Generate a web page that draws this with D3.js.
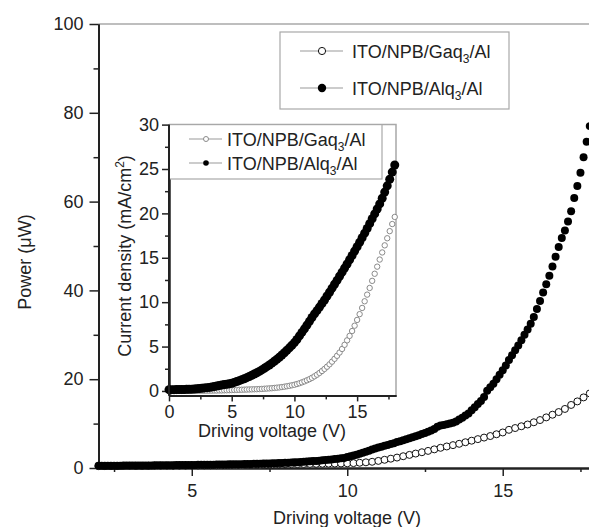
<!DOCTYPE html>
<html>
<head>
<meta charset="utf-8">
<script src="https://cdn.jsdelivr.net/npm/d3@7"></script>
<style>
  html, body { margin: 0; padding: 0; background: #fff; }
  svg { display: block; }
  text { font-family: "Liberation Sans", Arial, sans-serif; fill: #222; }
</style>
</head>
<body>
<svg id="chart" width="589" height="527"></svg>
<script>
// ---------------- DATA ----------------
const seriesNames = ["ITO/NPB/Gaq", "ITO/NPB/Alq"];

// Main plot: Power (µW) vs driving voltage (V)
const mainXTicks = [5, 10, 15];
const mainYTicks = [0, 20, 40, 60, 80, 100];
const mainGaqStart = 2.0, mainGaqStep = 0.2;
const mainGaqPower = [
  0.42,0.43,0.44,0.45,0.46,
  0.47,0.48,0.49,0.50,0.51,
  0.52,0.53,0.54,0.55,0.56,
  0.58,0.59,0.60,0.62,0.63,
  0.64,0.66,0.68,0.70,0.72,
  0.74,0.76,0.78,0.80,0.82,
  0.84,0.86,0.88,0.90,0.92,
  0.94,0.96,0.98,1.00,1.02,
  1.05,1.10,1.18,1.28,1.40,
  1.60,1.85,2.10,2.35,2.65,
  2.95,3.25,3.55,3.85,4.20,
  4.55,4.85,5.15,5.45,5.80,
  6.15,6.50,6.85,7.20,7.60,
  8.00,8.60,9.00,9.40,9.80,
  10.3,10.8,11.4,12.0,12.6,
  13.3,14.2,15.0,15.9,16.8
];
const mainAlqStart = 2.0, mainAlqStep = 0.1;
const mainAlqPower = [
  0.50,0.50,0.51,0.51,0.52,0.52,0.53,0.53,0.54,0.54,
  0.55,0.55,0.56,0.56,0.57,0.58,0.58,0.59,0.60,0.60,
  0.61,0.62,0.62,0.63,0.64,0.65,0.65,0.66,0.67,0.68,
  0.69,0.70,0.71,0.72,0.73,0.74,0.75,0.76,0.77,0.78,
  0.79,0.80,0.82,0.83,0.84,0.86,0.87,0.89,0.90,0.92,
  0.94,0.96,0.98,1.00,1.02,1.04,1.07,1.09,1.12,1.15,
  1.18,1.21,1.24,1.28,1.32,1.36,1.40,1.45,1.50,1.55,
  1.60,1.66,1.72,1.79,1.86,1.93,2.01,2.09,2.18,2.27,
  2.45,2.62,2.80,3.00,3.20,3.42,3.65,3.90,4.15,4.40,
  4.60,4.80,5.00,5.20,5.40,5.60,5.85,6.05,6.25,6.50,
  6.70,6.90,7.15,7.40,7.65,7.90,8.15,8.45,8.80,9.30,
  9.60,9.70,9.85,10.00,10.20,10.50,10.90,11.30,11.80,12.30,
  13.0,13.7,14.4,15.1,16.0,17.4,18.2,19.0,20.0,21.0,
  22.0,23.1,24.3,25.4,26.5,27.6,28.8,30.0,31.2,32.5,
  34.0,35.8,37.6,39.5,41.4,43.3,45.4,47.6,49.8,51.8,
  53.5,55.5,57.8,60.8,63.5,66.5,70.0,73.5,77.0
];

// Inset: Current density (mA/cm2) vs driving voltage (V)
const insetXTicks = [0, 5, 10, 15];
const insetYTicks = [0, 5, 10, 15, 20, 25, 30];
const insetStart = 0.0, insetStep = 0.2;
const insetGaqJ = [
  0.00,0.00,0.00,0.00,0.01,0.01,0.01,0.01,0.01,0.02,
  0.02,0.02,0.02,0.03,0.03,0.03,0.04,0.04,0.05,0.05,
  0.06,0.06,0.07,0.08,0.09,0.10,0.11,0.12,0.13,0.14,
  0.15,0.16,0.17,0.18,0.19,0.20,0.21,0.23,0.25,0.27,
  0.29,0.31,0.34,0.37,0.40,0.44,0.48,0.53,0.58,0.64,
  0.70,0.78,0.87,0.97,1.08,1.20,1.33,1.48,1.65,1.83,
  2.03,2.25,2.48,2.73,3.00,3.30,3.62,3.96,4.33,4.73,
  5.20,5.70,6.20,6.75,7.35,8.00,8.65,9.35,10.10,10.85,
  11.60,12.40,13.20,14.00,14.80,15.60,16.40,17.20,18.00,18.80,19.60
];
const insetAlqJ = [
  0.15,0.15,0.15,0.16,0.16,0.17,0.17,0.18,0.19,0.20,
  0.22,0.25,0.28,0.31,0.34,0.37,0.40,0.44,0.49,0.55,
  0.61,0.67,0.72,0.76,0.81,0.87,0.96,1.06,1.16,1.27,
  1.38,1.50,1.63,1.77,1.91,2.05,2.20,2.37,2.55,2.74,
  2.93,3.13,3.34,3.56,3.80,4.05,4.31,4.58,4.86,5.15,
  5.45,5.80,6.20,6.60,7.00,7.42,7.84,8.27,8.68,9.05,
  9.45,9.85,10.25,10.70,11.12,11.58,12.02,12.46,12.92,13.38,
  13.84,14.30,14.78,15.26,15.75,16.24,16.74,17.25,17.77,18.30,
  18.84,19.39,19.94,20.50,21.07,21.70,22.40,23.10,23.85,24.65,25.45
];

// ---------------- DRAW ----------------
const svg = d3.select("#chart");
const frameCol = "#a8a8a8", axisCol = "#222";

function toPts(start, step, vals) {
  return vals.map((v, i) => ({ x: +(start + i * step).toFixed(2), y: v }));
}

// ===== Main plot =====
const mx = d3.scaleLinear().domain([2, 18]).range([98.5, 596]);
const my = d3.scaleLinear().domain([0, 100]).range([468, 24]);

// top frame
svg.append("line").attr("x1", mx(2)).attr("x2", mx(18)).attr("y1", my(100)).attr("y2", my(100))
  .attr("stroke", frameCol).attr("stroke-width", 1.5);

function styleAxis(g, w) {
  g.selectAll("path.domain").attr("stroke", axisCol).attr("stroke-width", w);
  g.selectAll(".tick line").attr("stroke", axisCol).attr("stroke-width", 1.5);
  g.selectAll(".tick text").style("font-size", "18px").attr("fill", "#222")
    .style("font-family", '"Liberation Sans", Arial, sans-serif');
}

const myMinor = svg.append("g").attr("transform", `translate(${mx(2)},0)`)
  .call(d3.axisLeft(my).tickValues([10, 30, 50, 70, 90]).tickSize(5).tickSizeOuter(0).tickFormat(""));
styleAxis(myMinor, 2);
const myAxis = svg.append("g").attr("transform", `translate(${mx(2)},0)`)
  .call(d3.axisLeft(my).tickValues(mainYTicks).tickSize(9).tickSizeOuter(0).tickPadding(6));
styleAxis(myAxis, 2);

const mxMinor = svg.append("g").attr("transform", `translate(0,${my(0)})`)
  .call(d3.axisBottom(mx).tickValues([2.5, 7.5, 12.5, 17.5]).tickSize(4).tickSizeOuter(0).tickFormat(""));
styleAxis(mxMinor, 2);
const mxAxis = svg.append("g").attr("transform", `translate(0,${my(0)})`)
  .call(d3.axisBottom(mx).tickValues(mainXTicks).tickSize(8).tickSizeOuter(0).tickPadding(8));
styleAxis(mxAxis, 2);

// axis titles
svg.append("text").attr("x", 347).attr("y", 524).attr("text-anchor", "middle")
  .style("font-size", "18px").text("Driving voltage (V)");
svg.append("text").attr("transform", "translate(31,262) rotate(-90)").attr("text-anchor", "middle")
  .style("font-size", "18px").text("Power (\u03BCW)");

// data
const mainGaq = toPts(mainGaqStart, mainGaqStep, mainGaqPower);
const mainAlq = toPts(mainAlqStart, mainAlqStep, mainAlqPower);

svg.append("g").selectAll("circle").data(mainGaq).join("circle")
  .attr("cx", d => mx(d.x)).attr("cy", d => my(d.y)).attr("r", 3.5)
  .attr("fill", "#fff").attr("stroke", "#111").attr("stroke-width", 1);
svg.append("g").selectAll("circle").data(mainAlq).join("circle")
  .attr("cx", d => mx(d.x)).attr("cy", d => my(d.y)).attr("r", 4).attr("fill", "#000");

// main legend
const lg = svg.append("g");
lg.append("rect").attr("x", 280).attr("y", 32).attr("width", 229).attr("height", 77)
  .attr("fill", "#fff").attr("stroke", frameCol).attr("stroke-width", 1.2);
[51, 88].forEach((cy, i) => {
  lg.append("line").attr("x1", 300).attr("x2", 343).attr("y1", cy).attr("y2", cy)
    .attr("stroke", "#999").attr("stroke-width", 1);
  if (i === 0) {
    lg.append("circle").attr("cx", 322).attr("cy", cy).attr("r", 3.6)
      .attr("fill", "#fff").attr("stroke", "#111").attr("stroke-width", 1);
  } else {
    lg.append("circle").attr("cx", 322).attr("cy", cy).attr("r", 4.2).attr("fill", "#000");
  }
  const t = lg.append("text").attr("x", 352).attr("y", cy + 6.5).style("font-size", "18px");
  t.append("tspan").text(seriesNames[i]);
  t.append("tspan").attr("dy", 5).style("font-size", "12px").text("3");
  t.append("tspan").attr("dy", -5).text("/Al");
});

// ===== Inset =====
const ix = d3.scaleLinear().domain([0, 18.1]).range([169, 396]);
const iy = d3.scaleLinear().domain([-0.5, 30]).range([395.4, 124.6]);

svg.append("rect").attr("x", ix(0)).attr("y", iy(30)).attr("width", ix(18.1) - ix(0))
  .attr("height", iy(-0.5) - iy(30)).attr("fill", "#fff");
svg.append("path")
  .attr("d", `M${ix(0)},${iy(30)}H${ix(18.1)}V${iy(-0.5)}`)
  .attr("fill", "none").attr("stroke", frameCol).attr("stroke-width", 1.5);

const iyMinor = svg.append("g").attr("transform", `translate(${ix(0)},0)`)
  .call(d3.axisLeft(iy).tickValues([2.5, 7.5, 12.5, 17.5, 22.5, 27.5]).tickSize(4).tickSizeOuter(0).tickFormat(""));
styleAxis(iyMinor, 2);
const iyAxis = svg.append("g").attr("transform", `translate(${ix(0)},0)`)
  .call(d3.axisLeft(iy).tickValues(insetYTicks).tickSize(7).tickSizeOuter(0).tickPadding(3));
styleAxis(iyAxis, 2);

const ixMinor = svg.append("g").attr("transform", `translate(0,${iy(-0.5)})`)
  .call(d3.axisBottom(ix).tickValues([2.5, 7.5, 12.5, 17.5]).tickSize(4).tickSizeOuter(0).tickFormat(""));
styleAxis(ixMinor, 2);
const ixAxis = svg.append("g").attr("transform", `translate(0,${iy(-0.5)})`)
  .call(d3.axisBottom(ix).tickValues(insetXTicks).tickSize(6).tickSizeOuter(0).tickPadding(4));
styleAxis(ixAxis, 2);

svg.append("text").attr("x", 272).attr("y", 437).attr("text-anchor", "middle")
  .style("font-size", "18px").text("Driving voltage (V)");
const ylab = svg.append("text").attr("transform", "translate(131,256) rotate(-90)").attr("text-anchor", "middle")
  .style("font-size", "18px");
ylab.append("tspan").text("Current density (mA/cm");
ylab.append("tspan").attr("dy", -7).style("font-size", "12px").text("2");
ylab.append("tspan").attr("dy", 7).text(")");

const insetGaq = toPts(insetStart, insetStep, insetGaqJ);
const insetAlq = toPts(insetStart, insetStep, insetAlqJ);

svg.append("g").selectAll("circle").data(insetGaq).join("circle")
  .attr("cx", d => ix(d.x)).attr("cy", d => iy(d.y)).attr("r", 2.7)
  .attr("fill", "#fff").attr("stroke", "#8a8a8a").attr("stroke-width", 1);
svg.append("g").selectAll("circle").data(insetAlq).join("circle")
  .attr("cx", d => ix(d.x)).attr("cy", d => iy(d.y)).attr("r", 4.5).attr("fill", "#000");

// inset legend
const il = svg.append("g");
il.append("rect").attr("x", ix(0)).attr("y", iy(30)).attr("width", 382 - ix(0)).attr("height", 179 - iy(30))
  .attr("fill", "#fff").attr("stroke", frameCol).attr("stroke-width", 1.2);
[139, 163].forEach((cy, i) => {
  il.append("line").attr("x1", 189).attr("x2", 222).attr("y1", cy).attr("y2", cy)
    .attr("stroke", "#999").attr("stroke-width", 1);
  if (i === 0) {
    il.append("circle").attr("cx", 206).attr("cy", cy).attr("r", 2.5)
      .attr("fill", "#fff").attr("stroke", "#8a8a8a").attr("stroke-width", 1);
  } else {
    il.append("circle").attr("cx", 206).attr("cy", cy).attr("r", 2.8).attr("fill", "#000");
  }
  const t = il.append("text").attr("x", 227).attr("y", cy + 6.5).style("font-size", "18px");
  t.append("tspan").text(seriesNames[i]);
  t.append("tspan").attr("dy", 5).style("font-size", "12px").text("3");
  t.append("tspan").attr("dy", -5).text("/Al");
});
svg.append("line").attr("x1", ix(0)).attr("x2", ix(0)).attr("y1", iy(30)).attr("y2", iy(-0.5))
  .attr("stroke", axisCol).attr("stroke-width", 2);
</script>
</body>
</html>
